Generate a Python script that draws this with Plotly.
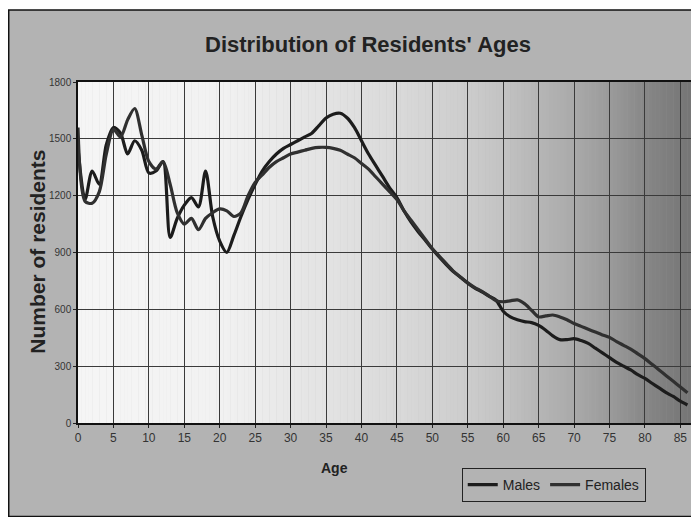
import numpy as np
import plotly.graph_objects as go

ages = list(range(0, 87))

males = [1450, 1180, 1330, 1260, 1470, 1560, 1530, 1420, 1490, 1440,
         1320, 1330, 1380, 980, 1080, 1150, 1190, 1140, 1330, 1090,
         960, 900, 990, 1090, 1180, 1260, 1330, 1380, 1420, 1450,
         1470, 1490, 1510, 1530, 1570, 1610, 1630, 1635, 1610, 1560,
         1490, 1420, 1360, 1300, 1240, 1190, 1120, 1060, 1010, 965,
         918, 875, 835, 798, 768, 738, 712, 692, 670, 648,
         590, 560, 545, 535, 530, 515, 490, 460, 440, 440,
         445, 435, 420, 395, 370, 345, 320, 300, 280, 255,
         235, 210, 185, 160, 140, 115, 95]

females = [1560, 1170, 1160, 1220, 1420, 1550, 1510, 1600, 1660, 1520,
           1380, 1340, 1380, 1260, 1110, 1050, 1080, 1020, 1080, 1110,
           1130, 1120, 1090, 1110, 1200, 1270, 1310, 1350, 1380, 1400,
           1420, 1430, 1440, 1450, 1455, 1455, 1450, 1440, 1420, 1400,
           1370, 1340, 1300, 1260, 1220, 1180, 1120, 1070, 1020, 970,
           920, 880, 840, 800, 770, 740, 715, 695, 670, 645,
           640, 645, 650, 630, 595, 560, 565, 570, 560, 545,
           525, 510, 495, 480, 465, 452, 430, 410, 390, 365,
           340, 310, 280, 250, 220, 190, 160]

y_ticks = [0, 300, 600, 900, 1200, 1500, 1800]
x_ticks = list(range(0, 90, 5))

# the page has an 8px body margin; work in reference-pixel coordinates and shift
OFF = 8
W, H = 699 - OFF, 517 - OFF
PL, PT, PR, PB = 78, 82, 693, 423  # plot area in reference pixels
L, T = PL - OFF, PT - OFF
R, B = W - (PR - OFF), H - (PB - OFF)
PW, PH = PR - PL, PB - PT

def px(x):
    return (x - PL) / PW

def py(y):
    return (PB - y) / PH

FONT = "Liberation Sans, Arial, sans-serif"

fig = go.Figure()
fig.add_trace(go.Scatter(x=ages, y=males, name="Males", mode="lines",
                         line=dict(color="#1c1c1c", width=3.2, shape="spline", smoothing=0.8)))
fig.add_trace(go.Scatter(x=ages, y=females, name="Females", mode="lines",
                         line=dict(color="#303030", width=3.2, shape="spline", smoothing=0.8)))

shapes = []
# chart frame
shapes.append(dict(type="rect", xref="paper", yref="paper",
                   x0=px(8.5), x1=px(697), y0=py(516.5), y1=py(10),
                   fillcolor="#b3b3b3", line=dict(color="#111", width=1.5), layer="below"))
# plot-area gradient background
gx = [0, 20, 30, 45, 55, 60, 65, 70, 75, 80, 86.5]
gv = [246, 242, 232, 218, 205, 195, 182, 170, 155, 135, 118]
step = 0.5
edges = np.arange(0, 86.5 + step, step)
for a0, a1 in zip(edges[:-1], edges[1:]):
    g = int(np.interp((a0 + a1) / 2, gx, gv))
    shapes.append(dict(type="rect", xref="x", yref="paper", x0=a0, x1=a1 + 0.05,
                       y0=0, y1=1, fillcolor=f"rgb({g},{g},{g})", line=dict(width=0),
                       layer="below"))

fig.update_layout(
    width=W, height=H,
    margin=dict(l=L, r=R, t=T, b=B, pad=0),
    paper_bgcolor="white",
    plot_bgcolor="white",
    font=dict(family=FONT, color="#222"),
    shapes=shapes,
    title=dict(text="<b>Distribution of Residents' Ages</b>", x=(368 - OFF) / W,
               xanchor="center", y=1 - (44 - OFF) / H, yanchor="middle",
               font=dict(size=22, color="#222", family=FONT)),
    showlegend=True,
    legend=dict(orientation="h", x=px(463), y=py(468), xanchor="left", yanchor="top",
                bgcolor="rgba(0,0,0,0)", bordercolor="#222", borderwidth=1,
                font=dict(size=14, color="#222"), itemwidth=30),
    xaxis=dict(range=[0, 86.5], tickvals=x_ticks, showgrid=True, gridcolor="#3a3a3a",
               gridwidth=1, showline=True, linecolor="#111", linewidth=1.5, mirror=True,
               ticks="outside", ticklen=3, tickcolor="#222",
               tickfont=dict(size=12, color="#333"), zeroline=False),
    yaxis=dict(range=[0, 1800], tickvals=y_ticks, showgrid=True, gridcolor="#3a3a3a",
               gridwidth=1, showline=True, linecolor="#111", linewidth=1.5, mirror=True,
               ticks="outside", ticklen=3, tickcolor="#222",
               tickfont=dict(size=10, color="#333"), zeroline=False),
    annotations=[
        dict(text="<b>Age</b>", xref="paper", yref="paper", x=px(335), y=py(478),
             showarrow=False, font=dict(size=14, color="#222")),
        dict(text="<b>Number of residents</b>", xref="paper", yref="paper", x=px(23), y=py(252),
             showarrow=False, textangle=-90, font=dict(size=21, color="#222")),
    ],
)

fig.write_html("out.html")
